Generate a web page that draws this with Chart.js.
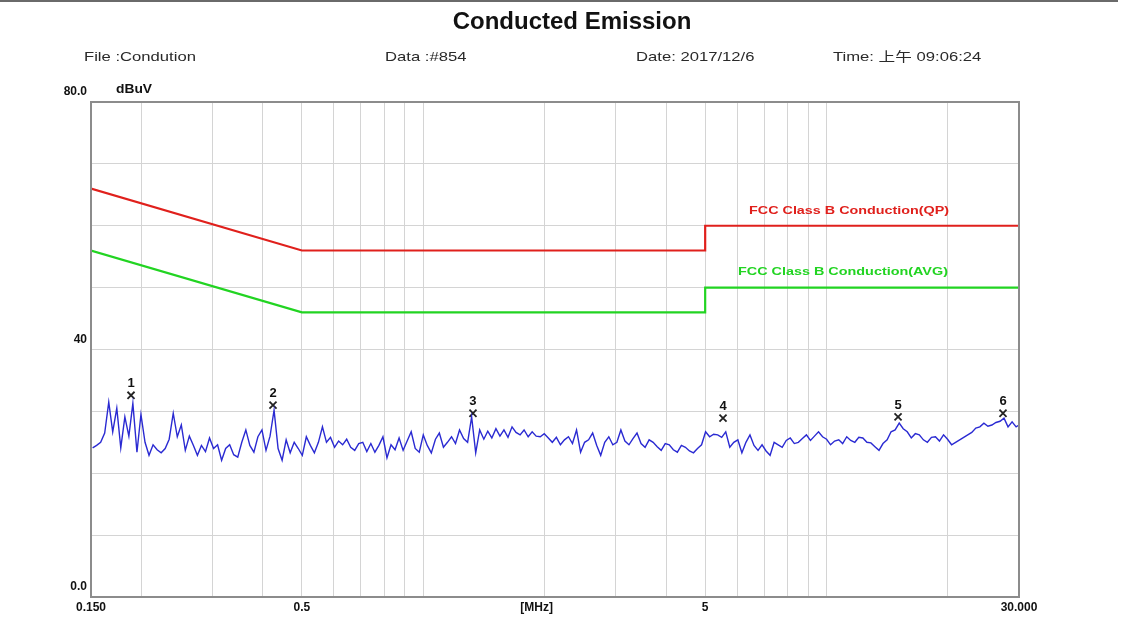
<!DOCTYPE html>
<html>
<head>
<meta charset="utf-8">
<script src="https://cdn.jsdelivr.net/npm/chart.js@4.4.1/dist/chart.umd.min.js"></script>
<style>
  html, body { margin: 0; padding: 0; background: #ffffff; }
  #wrap { position: relative; width: 1126px; height: 618px; }
</style>
</head>
<body>
<div id="wrap"><canvas id="c" width="1126" height="618"></canvas></div>
<script>
// ---------------- data ----------------
const chartTitle = 'Conducted Emission';
const headerTexts = ['File :Condution', 'Data :#854', 'Date: 2017/12/6', 'Time: 上午 09:06:24'];
const yUnit = 'dBuV';

// FCC Class B limits (MHz, dBuV)
const qpFreq  = [0.15, 0.5, 5, 5, 30];
const qpLevel = [66, 56, 56, 60, 60];
const avgFreq  = [0.15, 0.5, 5, 5, 30];
const avgLevel = [56, 46, 46, 50, 50];
const qpLabel = 'FCC Class B Conduction(QP)';
const avgLabel = 'FCC Class B Conduction(AVG)';

const traceFreq = [
  0.1514, 0.1549, 0.1585, 0.1622, 0.1660, 0.1698, 0.1738, 0.1778, 0.1820, 0.1862,
  0.1905, 0.1950, 0.1995, 0.2042, 0.2089, 0.2138, 0.2188, 0.2239, 0.2291, 0.2344,
  0.2399, 0.2455, 0.2512, 0.2570, 0.2630, 0.2692, 0.2754, 0.2818, 0.2884, 0.2951,
  0.3020, 0.3090, 0.3162, 0.3236, 0.3311, 0.3388, 0.3467, 0.3548, 0.3631, 0.3715,
  0.3802, 0.3890, 0.3981, 0.4074, 0.4169, 0.4266, 0.4365, 0.4467, 0.4571, 0.4677,
  0.4786, 0.4898, 0.5012, 0.5129, 0.5248, 0.5370, 0.5495, 0.5623, 0.5754, 0.5888,
  0.6026, 0.6166, 0.6310, 0.6457, 0.6607, 0.6761, 0.6918, 0.7079, 0.7244, 0.7413,
  0.7586, 0.7762, 0.7943, 0.8128, 0.8318, 0.8511, 0.8710, 0.8913, 0.9120, 0.9333,
  0.9550, 0.9772, 1.000, 1.023, 1.047, 1.072, 1.096, 1.122, 1.148, 1.175,
  1.202, 1.230, 1.259, 1.288, 1.318, 1.349, 1.380, 1.413, 1.445, 1.479,
  1.514, 1.549, 1.585, 1.622, 1.660, 1.698, 1.738, 1.778, 1.820, 1.862,
  1.905, 1.950, 1.995, 2.042, 2.089, 2.138, 2.188, 2.239, 2.291, 2.344,
  2.399, 2.455, 2.512, 2.570, 2.630, 2.692, 2.754, 2.818, 2.884, 2.951,
  3.020, 3.090, 3.162, 3.236, 3.311, 3.388, 3.467, 3.548, 3.631, 3.715,
  3.802, 3.890, 3.981, 4.074, 4.169, 4.266, 4.365, 4.467, 4.571, 4.677,
  4.786, 4.898, 5.012, 5.129, 5.248, 5.370, 5.495, 5.623, 5.754, 5.888,
  6.026, 6.166, 6.310, 6.457, 6.607, 6.761, 6.918, 7.079, 7.244, 7.413,
  7.586, 7.762, 7.943, 8.128, 8.318, 8.511, 8.710, 8.913, 9.120, 9.333,
  9.550, 9.772, 10.00, 10.23, 10.47, 10.72, 10.96, 11.22, 11.48, 11.75,
  12.02, 12.30, 12.59, 12.88, 13.18, 13.49, 13.80, 14.13, 14.45, 14.79,
  15.14, 15.49, 15.85, 16.22, 16.60, 16.98, 17.38, 17.78, 18.20, 18.62,
  19.05, 19.50, 19.95, 20.42, 20.89, 21.38, 21.88, 22.39, 22.91, 23.44,
  23.99, 24.55, 25.12, 25.70, 26.30, 26.92, 27.54, 28.18, 28.84, 29.51,
  30.00
];
const traceLevel = [
  24.1, 24.5, 25.0, 26.5, 31.5, 26.7, 30.5, 24.1, 29.1, 26.0,
  31.3, 23.4, 29.5, 25.0, 22.9, 24.6, 23.8, 23.3, 24.0, 25.5,
  29.7, 25.9, 27.8, 23.7, 26.0, 24.5, 22.9, 24.5, 23.5, 25.7,
  24.0, 24.6, 22.1, 24.0, 24.6, 23.0, 22.6, 25.0, 27.0, 24.5,
  23.4, 25.9, 27.0, 23.7, 26.0, 30.2, 24.0, 22.1, 25.4, 23.3,
  25.0, 24.0, 22.9, 25.9, 24.5, 23.3, 25.0, 27.5, 25.0, 25.8,
  24.2, 25.2, 24.6, 25.5, 24.2, 23.7, 24.8, 25.0, 23.5, 24.8,
  23.4, 24.5, 25.9, 22.5, 24.6, 23.8, 25.7, 23.7, 25.2, 26.7,
  24.0, 23.4, 26.2, 24.5, 23.3, 25.5, 26.5, 24.2, 25.0, 25.9,
  24.8, 27.0, 25.6, 25.0, 29.1, 23.3, 27.0, 25.5, 26.8, 25.7,
  27.2, 26.0, 27.0, 25.8, 27.5, 26.6, 26.2, 27.0, 25.9, 26.7,
  26.0, 25.9, 26.4, 25.7, 25.0, 25.8, 24.6, 25.4, 25.9, 24.8,
  27.0, 23.4, 25.0, 25.4, 26.5, 24.5, 22.9, 25.0, 25.9, 24.6,
  25.0, 27.0, 25.2, 24.6, 25.6, 26.5, 24.8, 24.2, 25.4, 25.0,
  24.3, 23.7, 24.8, 24.6, 23.8, 23.4, 24.5, 24.2, 23.6, 23.3,
  24.0, 24.6, 26.7, 25.9, 26.3, 26.2, 25.8, 26.7, 24.2, 25.0,
  25.4, 23.3, 25.0, 26.2, 24.5, 23.7, 24.6, 23.6, 22.9, 25.0,
  24.6, 24.2, 25.3, 25.7, 24.8, 25.0, 25.6, 26.2, 25.3, 26.0,
  26.7, 25.9, 25.5, 24.6, 25.2, 25.4, 24.8, 25.9, 25.3, 25.0,
  25.8, 25.7, 25.0, 24.9, 24.3, 23.7, 24.8, 25.4, 26.7, 27.0,
  28.1, 27.2, 26.7, 25.7, 26.4, 26.2, 25.4, 25.0, 25.8, 25.9,
  25.2, 26.2, 25.5, 24.6, 25.0, 25.4, 25.8, 26.2, 26.6, 27.3,
  27.5, 28.1, 27.6, 27.8, 28.2, 28.4, 28.9, 27.5, 28.3, 27.5,
  27.8
];

// markers
const markerNames = ['1', '2', '3', '4', '5', '6'];
const markerFreq  = [0.1885, 0.424, 1.328, 5.536, 15.04, 27.38];
const markerLevel = [32.6, 31.0, 29.7, 28.9, 29.1, 29.7];

// axes
const xGridValues = [0.15, 0.2, 0.3, 0.4, 0.5, 0.6, 0.7, 0.8, 0.9, 1, 2, 3, 4, 5, 6, 7, 8, 9, 10, 20, 30];
const xLabelValues = [0.15, 0.5, 1.91, 5, 30];
const xLabelTexts  = ['0.150', '0.5', '[MHz]', '5', '30.000'];
const yLabelValues = [0, 40, 80];
const yLabelTexts  = ['0.0', '40', '80.0'];

// ---------------- helpers ----------------
const pts = (xs, ys) => xs.map((x, i) => ({ x: x, y: ys[i] }));
const allXTicks = Array.from(new Set(xGridValues.concat(xLabelValues))).sort((a, b) => a - b);
const tickFont = { family: '"Liberation Sans", Arial, sans-serif', size: 12, weight: 'bold' };

function stretchedText(ctx, text, x, y, font, sx, align) {
  ctx.save();
  ctx.font = font;
  ctx.textAlign = align;
  ctx.textBaseline = 'middle';
  ctx.translate(x, y);
  ctx.scale(sx, 1);
  ctx.fillText(text, 0, 0);
  ctx.restore();
}

const decorPlugin = {
  id: 'decor',
  beforeDraw(chart) {
    const ctx = chart.ctx;
    ctx.save();
    ctx.fillStyle = '#ffffff';
    ctx.fillRect(0, 0, chart.width, chart.height);
    // top rule
    ctx.strokeStyle = '#6a6a6a';
    ctx.lineWidth = 2;
    ctx.beginPath(); ctx.moveTo(0, 1); ctx.lineTo(1118, 1); ctx.stroke();
    // title
    ctx.fillStyle = '#111';
    stretchedText(ctx, chartTitle, 572, 22, 'bold 24px "Liberation Sans", Arial, sans-serif', 1.0, 'center');
    // header line
    ctx.fillStyle = '#2a2a2a';
    const hx = [84, 385, 636, 833];
    headerTexts.forEach((t, i) =>
      stretchedText(ctx, t, hx[i], 57, '13px "Liberation Sans", Arial, "Noto Sans CJK SC", sans-serif', 1.28, 'left'));
    // unit
    ctx.fillStyle = '#111';
    stretchedText(ctx, yUnit, 116, 90, 'bold 12px "Liberation Sans", Arial, sans-serif', 1.15, 'left');
    ctx.restore();
  },
  afterDatasetsDraw(chart) {
    const ctx = chart.ctx;
    const xs = chart.scales.x, ys = chart.scales.y;
    const a = chart.chartArea;
    ctx.save();
    // limit labels
    const drawWide = (text, color, f, v, w) => {
      ctx.save();
      ctx.font = 'bold 11px "Liberation Sans Narrow", "Liberation Sans", Arial, sans-serif';
      ctx.fillStyle = color;
      ctx.textAlign = 'center';
      ctx.textBaseline = 'middle';
      const m = ctx.measureText(text).width;
      ctx.translate(xs.getPixelForValue(f), ys.getPixelForValue(v));
      ctx.scale(w / m, 1);
      ctx.fillText(text, 0, 0);
      ctx.restore();
    };
    drawWide(qpLabel, '#e0201c', 11.37, 62.4, 200);
    drawWide(avgLabel, '#22d422', 10.98, 52.5, 210);
    // marker numbers
    const meta = chart.getDatasetMeta(3);
    ctx.fillStyle = '#111';
    ctx.font = 'bold 13px "Liberation Sans Narrow", "Liberation Sans", Arial, sans-serif';
    ctx.textAlign = 'center';
    ctx.textBaseline = 'middle';
    meta.data.forEach((el, i) => ctx.fillText(markerNames[i], el.x, el.y - 12));
    // frame
    ctx.strokeStyle = '#8c8c8c';
    ctx.lineWidth = 2;
    ctx.strokeRect(a.left, a.top, a.right - a.left, a.bottom - a.top);
    ctx.restore();
  }
};

new Chart(document.getElementById('c'), {
  type: 'line',
  data: {
    datasets: [
      { label: qpLabel, data: pts(qpFreq, qpLevel), borderColor: '#e0201c', borderWidth: 2.2, pointRadius: 0, tension: 0 },
      { label: avgLabel, data: pts(avgFreq, avgLevel), borderColor: '#22d422', borderWidth: 2.2, pointRadius: 0, tension: 0 },
      { label: 'Trace', data: pts(traceFreq, traceLevel), borderColor: '#2a2ad2', borderWidth: 1.4, pointRadius: 0, tension: 0 },
      { label: 'Markers', type: 'scatter', data: pts(markerFreq, markerLevel), showLine: false,
        pointStyle: 'crossRot', pointRadius: 5, borderColor: '#222', borderWidth: 1.8, backgroundColor: '#222' }
    ]
  },
  options: {
    responsive: false,
    animation: false,
    devicePixelRatio: 1,
    layout: { padding: { top: 102, right: 107, left: 0, bottom: 0 } },
    plugins: { legend: { display: false }, title: { display: false }, tooltip: { enabled: false } },
    scales: {
      x: {
        type: 'logarithmic',
        min: 0.15, max: 30,
        afterBuildTicks: (s) => { s.ticks = allXTicks.map(v => ({ value: v })); },
        afterFit: (s) => { s.height = 21; },
        border: { display: false },
        grid: {
          drawTicks: false,
          color: (c) => (c.tick && xGridValues.includes(c.tick.value)) ? '#d4d4d4' : 'rgba(0,0,0,0)',
          lineWidth: 1
        },
        ticks: {
          autoSkip: false, maxRotation: 0, padding: 3, color: '#111', font: tickFont,
          callback: (v) => { const i = xLabelValues.indexOf(v); return i >= 0 ? xLabelTexts[i] : ''; }
        }
      },
      y: {
        min: 0, max: 80,
        afterFit: (s) => { s.width = 91; },
        border: { display: false },
        grid: { drawTicks: false, color: '#d4d4d4', lineWidth: 1 },
        ticks: {
          stepSize: 10, padding: 4, labelOffset: -10, color: '#111', font: tickFont,
          callback: (v) => { const i = yLabelValues.indexOf(v); return i >= 0 ? yLabelTexts[i] : ''; }
        }
      }
    }
  },
  plugins: [decorPlugin]
});
</script>
</body>
</html>
